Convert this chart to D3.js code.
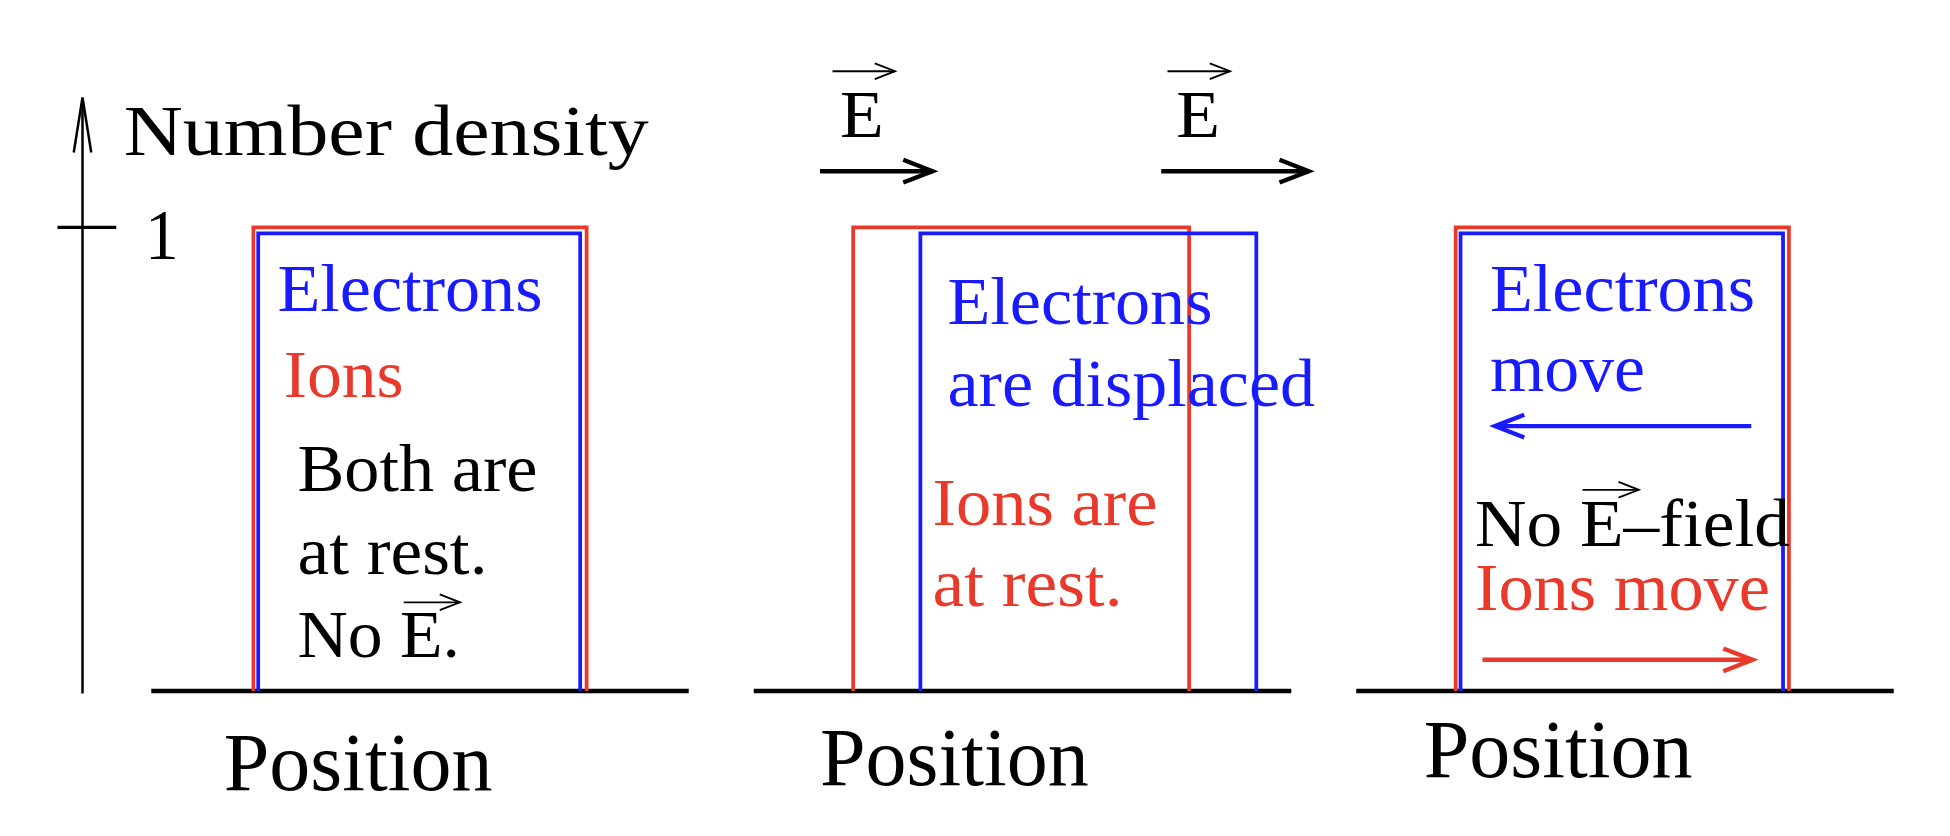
<!DOCTYPE html>
<html><head><meta charset="utf-8">
<script src="https://cdn.jsdelivr.net/npm/d3@7"></script>
<style>body{margin:0;background:#fff}</style>
</head><body>
<svg id="chart" width="1950" height="836" viewBox="4 0 1560 669" preserveAspectRatio="none"></svg>
<script>
// three panels, box edges in "position" units (0..100 across each panel axis)
const panels = ["before", "displaced", "moving"];
const ionEdges = [[19, 81], [18.5, 81], [18.5, 80.5]];
const electronEdges = [[19.9, 79.8], [31, 93.5], [19.4, 79.4]];
const ionDensity = [1, 1, 1];
const electronDensity = [0.987, 0.987, 0.987];
const yTicks = [1];

const red = "#e8392b";
const blue = "#1a1aff";
const font = "Liberation Serif, Times New Roman, serif";

const svg = d3.select("#chart");
const panelLeft = [125, 607, 1089];
const panelWidth = 430;
const yScale = d3.scaleLinear().domain([0, 1]).range([553, 182]);

// arrow helper (open chevron head)
function arrow(x1, x2, y, color, w, head) {
    const dir = Math.sign(x2 - x1);
    svg.append("line").attr("x1", x1).attr("x2", x2).attr("y1", y).attr("y2", y)
        .attr("stroke", color).attr("stroke-width", w);
    svg.append("path")
        .attr("d", `M${x2 - dir * head * 1.8},${y - head * 0.7} L${x2},${y} L${x2 - dir * head * 1.8},${y + head * 0.7}`)
        .attr("fill", "none").attr("stroke", color).attr("stroke-width", w);
}

function label(x, y, str, color, size, len) {
    const t = svg.append("text").attr("x", x).attr("y", y).attr("fill", color)
        .attr("font-family", font).attr("font-size", size).text(str);
    if (len) t.attr("textLength", len).attr("lengthAdjust", "spacingAndGlyphs");
    return t;
}

// y axis
svg.append("line").attr("x1", 70).attr("x2", 70).attr("y1", 555).attr("y2", 80)
    .attr("stroke", "#000").attr("stroke-width", 2);
svg.append("path").attr("d", "M63,122 L70,78 L77,122").attr("fill", "none")
    .attr("stroke", "#000").attr("stroke-width", 2);
yTicks.forEach(v => {
    svg.append("line").attr("x1", 50).attr("x2", 97).attr("y1", yScale(v)).attr("y2", yScale(v))
        .attr("stroke", "#000").attr("stroke-width", 2.5);
    label(120, yScale(v) + 25, String(v), "#000", 58, 27);
});
label(103, 124, "Number density", "#000", 58, 420);

panels.forEach((p, i) => {
    const x = d3.scaleLinear().domain([0, 100]).range([panelLeft[i], panelLeft[i] + panelWidth]);
    svg.append("line").attr("x1", x(0)).attr("x2", x(100)).attr("y1", 553).attr("y2", 553)
        .attr("stroke", "#000").attr("stroke-width", 3.5);
    const boxes = [
        { e: ionEdges[i], d: ionDensity[i], c: red },
        { e: electronEdges[i], d: electronDensity[i], c: blue }
    ];
    boxes.forEach(b => {
        svg.append("path")
            .attr("d", `M${x(b.e[0])},${yScale(0)} V${yScale(b.d)} H${x(b.e[1])} V${yScale(0)}`)
            .attr("fill", "none").attr("stroke", b.c).attr("stroke-width", 3);
    });
});

// position labels
label(183, 632, "Position", "#000", 66, 215);
label(660, 628, "Position", "#000", 66, 215);
label(1143, 622, "Position", "#000", 66, 215);

// panel 1
label(226, 249, "Electrons", blue, 54, 212);
label(231, 318, "Ions", red, 54, 96);
label(242, 393, "Both are", "#000", 54, 192);
label(242, 459, "at rest.", "#000", 54, 152);
label(242, 526, "No E.", "#000", 54, 130);
arrow(327, 372, 482, "#000", 1.5, 9);

// panel 2
label(676, 110, "E", "#000", 54, 35);
arrow(670, 720, 57, "#000", 1.5, 9);
arrow(660, 750, 137, "#000", 3.5, 13);
label(945, 110, "E", "#000", 54, 35);
arrow(938, 988, 57, "#000", 1.5, 9);
arrow(933, 1051, 137, "#000", 3.5, 13);
label(762, 259, "Electrons", blue, 54, 212);
label(762, 325, "are displaced", blue, 54, 294);
label(750, 420, "Ions are", red, 54, 180);
label(750, 485, "at rest.", red, 54, 152);

// panel 3
label(1196, 249, "Electrons", blue, 54, 212);
label(1196, 313, "move", blue, 54, 124);
arrow(1405, 1200, 341, blue, 3.5, 13);
label(1184, 437, "No E\u2013field", "#000", 54, 252);
arrow(1270, 1315, 392, "#000", 1.5, 9);
label(1184, 488, "Ions move", red, 54, 236);
arrow(1190, 1406, 528, red, 3.5, 13);
</script>
</body></html>
